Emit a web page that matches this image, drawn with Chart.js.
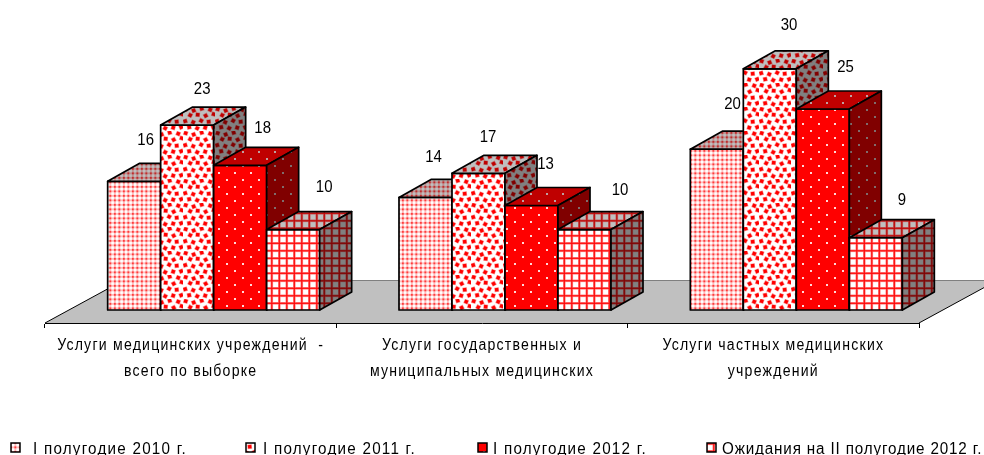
<!DOCTYPE html>
<html><head><meta charset="utf-8">
<style>html,body{margin:0;padding:0;background:#fff;overflow:hidden}canvas{display:block}</style>
<script src="https://cdn.jsdelivr.net/npm/chart.js@4"></script>
</head><body><canvas id="c" width="984" height="455"></canvas>
<script>
const categories = [
  ['Услуги медицинских учреждений  -', 'всего по выборке'],
  ['Услуги государственных и', 'муниципальных медицинских'],
  ['Услуги частных медицинских', 'учреждений']
];
const seriesNames = ['I полугодие 2010 г.', 'I полугодие 2011 г.', 'I полугодие 2012 г.', 'Ожидания на II полугодие 2012 г.'];
const h1_2010 = [16, 14, 20];
const h1_2011 = [23, 17, 30];
const h1_2012 = [18, 13, 25];
const h2_2012 = [10, 10, 9];

// styling / placement
const FONT = '"Liberation Sans",sans-serif';
const PLANE = {dx: 23, dy: -13};      // front plane of the bars relative to the floor's front edge
const BAR3D = {dx: 32, dy: -18};      // bar depth
const FLOOR = {dx: 79, dy: -43};      // floor depth
const labelNudge = [
  [[11.5,-41.4],[8,-40.4],[15.7,-45.2]],
  [[15,-36],[9.6,-36.3],[19.2,-43.8]],
  [[22.5,-37.3],[14,-41.5],[22.7,-42]],
  [[31,-42.6],[35.6,-39.6],[26.2,-37.6]]
];
const legendX = [11, 246, 478, 707];
const legendTextX = [33, 263, 493, 722];
const legendSpacing = ['1.3px', '1.3px', '1.3px', '0.9px'];

function makeTile(w, h, paint) {
  return function (shade) {
    const c = document.createElement('canvas');
    c.width = w; c.height = h;
    const g = c.getContext('2d');
    const col = (r, gr, b) => `rgb(${Math.round(r*shade)},${Math.round(gr*shade)},${Math.round(b*shade)})`;
    paint(g, col);
    return g.createPattern(c, 'repeat');
  };
}
const confetti = [[1,0.5,.3],[9,1.8,-.4],[5.5,6.5,.5],[13,6,.1],[0.5,12.5,-.3],[8.5,13.5,.4],[4.5,18.5,-.2],[12.5,19.5,.5],
                  [17,0,-.3],[25.5,1,.4],[21,7,-.5],[29,5.5,.3],[16.5,12,.5],[24,13,-.1],[20.5,19,.3],[28.5,18.5,-.4]];
const tiles = [
  makeTile(9, 9, (g, col) => {
    g.fillStyle = col(255,255,255); g.fillRect(0,0,9,9);
    g.fillStyle = col(255,190,190);
    [0.9, 5.4].forEach(p => { g.fillRect(p,0,1.9,9); g.fillRect(0,p,9,1.9); });
    g.fillStyle = col(255,60,60);
    [0.9, 5.4].forEach(a => [0.9, 5.4].forEach(b => g.fillRect(a,b,1.9,1.9)));
  }),
  makeTile(32, 24, (g, col) => {
    g.fillStyle = col(255,255,255); g.fillRect(0,0,32,24);
    confetti.forEach(p => {
      g.save(); g.translate(p[0]+1.7, p[1]+1.7); g.rotate(p[2]);
      g.fillStyle = col(255,150,150); g.fillRect(-2.3,-2.3,4.6,4.6);
      g.fillStyle = col(255,0,0); g.fillRect(-1.7,-1.7,3.4,3.4);
      g.restore();
    });
  }),
  makeTile(16, 14, (g, col) => {
    g.fillStyle = col(255,0,0); g.fillRect(0,0,16,14);
    g.fillStyle = col(255,215,215);
    g.fillRect(3,3,2,2); g.fillRect(11,10,2,2);
  }),
  makeTile(15, 15, (g, col) => {
    g.fillStyle = col(255,255,255); g.fillRect(0,0,15,15);
    g.fillStyle = col(255,135,135);
    [0, 7.5].forEach(p => { g.fillRect(p,0,2.6,15); g.fillRect(0,p,15,2.6); });
    g.fillStyle = col(255,10,10);
    [0.7, 8.2].forEach(p => { g.fillRect(p,0,1.2,15); g.fillRect(0,p,15,1.2); });
  })
];
const fronts = tiles.map(t => t(1));
const tops = tiles.map(t => t(0.75));
const sides = tiles.map(t => t(0.5));

function poly(ctx, pts, fill, stroke, lw) {
  ctx.beginPath();
  pts.forEach((p, i) => i ? ctx.lineTo(p[0], p[1]) : ctx.moveTo(p[0], p[1]));
  ctx.closePath();
  if (fill) { ctx.fillStyle = fill; ctx.fill(); }
  if (stroke) { ctx.strokeStyle = stroke; ctx.lineWidth = lw; ctx.lineJoin = 'round'; ctx.stroke(); }
}

// The reference font is a narrow grotesque; no narrow face is installed, so text is squeezed horizontally.
let squeeze = 1;
function installSqueeze(ctx) {
  if (ctx.__squeezed) return;
  const orig = ctx.fillText.bind(ctx);
  ctx.fillText = function (t, x, y) {
    ctx.save();
    ctx.translate(x, y);
    ctx.scale(squeeze, 1);
    orig(t, 0, 0);
    ctx.restore();
  };
  ctx.__squeezed = true;
}

const scene3d = {
  id: 'scene3d',
  beforeDraw(chart) {
    const ctx = chart.ctx, a = chart.chartArea;
    installSqueeze(ctx);
    squeeze = 0.88;
    ctx.letterSpacing = '1.4px';
    ctx.save();
    poly(ctx, [[a.left,a.bottom],[a.right,a.bottom],[a.right+FLOOR.dx,a.bottom+FLOOR.dy],[a.left+FLOOR.dx,a.bottom+FLOOR.dy]], '#c0c0c0');
    ctx.lineWidth = 1;
    ctx.strokeStyle = '#808080';
    ctx.beginPath(); ctx.moveTo(a.left+FLOOR.dx,a.bottom+FLOOR.dy+0.5); ctx.lineTo(a.right+FLOOR.dx,a.bottom+FLOOR.dy+0.5); ctx.stroke();
    ctx.strokeStyle = '#000';
    ctx.beginPath();
    ctx.moveTo(a.left,a.bottom); ctx.lineTo(a.left+FLOOR.dx,a.bottom+FLOOR.dy);
    ctx.moveTo(a.right,a.bottom); ctx.lineTo(a.right+FLOOR.dx,a.bottom+FLOOR.dy);
    ctx.stroke();
    ctx.restore();
  },
  beforeDatasetDraw() { return false; },
  afterDatasetsDraw(chart) {
    const ctx = chart.ctx;
    ctx.save();
    ctx.translate(PLANE.dx, PLANE.dy);
    chart.data.datasets.forEach((ds, d) => {
      chart.getDatasetMeta(d).data.forEach(el => {
        const p = el.getProps(['x','y','base','width'], true);
        const L = p.x - p.width/2, R = p.x + p.width/2, T = p.y, B = p.base;
        const dx = BAR3D.dx, dy = BAR3D.dy;
        el.draw(ctx);
        poly(ctx, [[L,T],[R,T],[R,B],[L,B]], null, '#000', 1.7);
        poly(ctx, [[L,T],[L+dx,T+dy],[R+dx,T+dy],[R,T]], tops[d], '#000', 1.7);
        poly(ctx, [[R,T],[R+dx,T+dy],[R+dx,B+dy],[R,B]], sides[d], '#000', 1.7);
      });
    });
    ctx.restore();
    ctx.save();
    squeeze = 0.88;
    ctx.letterSpacing = '0px';
    ctx.fillStyle = '#000';
    ctx.font = '17px ' + FONT;
    ctx.textAlign = 'center';
    ctx.textBaseline = 'middle';
    chart.data.datasets.forEach((ds, d) => {
      chart.getDatasetMeta(d).data.forEach((el, i) => {
        const n = labelNudge[d][i];
        ctx.fillText(String(ds.data[i]), el.x + PLANE.dx + n[0], el.y + PLANE.dy + n[1]);
      });
    });
    ctx.restore();
    // legend
    ctx.save();
    squeeze = 0.95;
    ctx.font = '16px ' + FONT;
    ctx.textBaseline = 'middle';
    ctx.textAlign = 'left';
    chart.data.datasets.forEach((ds, d) => {
      ctx.letterSpacing = legendSpacing[d];
      ctx.fillStyle = fronts[d];
      ctx.fillRect(legendX[d], 443, 9, 9);
      ctx.strokeStyle = '#000'; ctx.lineWidth = 1.5;
      ctx.strokeRect(legendX[d], 443, 9, 9);
      ctx.fillStyle = '#000';
      ctx.fillText(ds.label, legendTextX[d], 449.5);
    });
    ctx.restore();
  }
};

const seriesData = [h1_2010, h1_2011, h1_2012, h2_2012];
new Chart(document.getElementById('c'), {
  type: 'bar',
  data: {
    labels: categories,
    datasets: seriesData.map((v, i) => ({
      label: seriesNames[i], data: v, backgroundColor: fronts[i], borderWidth: 0,
      barPercentage: 1, categoryPercentage: 0.7277
    }))
  },
  plugins: [scene3d],
  options: {
    responsive: false, animation: false, devicePixelRatio: 1,
    layout: {padding: {left: 45, right: 65, top: 41.6, bottom: 0}},
    plugins: {legend: {display: false}, tooltip: {enabled: false}},
    scales: {
      y: {display: false, min: 0, max: 35},
      x: {
        offset: true,
        border: {display: true, color: '#000', width: 1},
        grid: {offset: true, display: true, drawOnChartArea: false, drawTicks: true, tickLength: 5, color: '#000'},
        ticks: {autoSkip: false, maxRotation: 0, minRotation: 0, padding: 5, color: '#000',
          font: {family: FONT, size: 16, lineHeight: 1.625}},
        afterFit(s) { s.height = 455 - 323; }
      }
    }
  }
});
</script></body></html>
